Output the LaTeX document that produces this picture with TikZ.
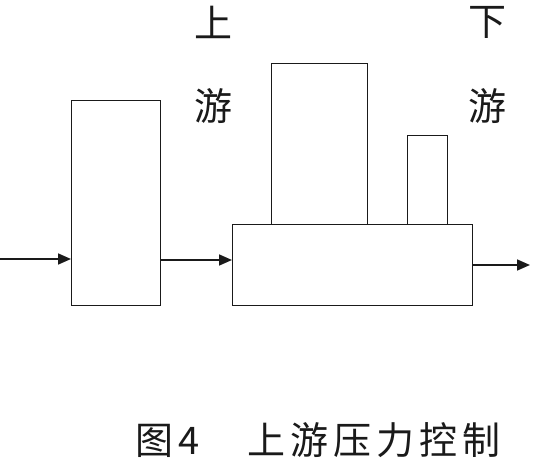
\documentclass[tikz,border=0pt]{standalone}
\usepackage{fontspec}
\usepackage{tikz}
\usetikzlibrary{arrows.meta,positioning}
\newfontfamily\cjk[LetterSpace=13]{Noto Sans CJK SC}
\newfontfamily\cjklabel{Noto Sans CJK SC}
\definecolor{ink}{HTML}{1A1A1A}

\begin{document}
\begin{tikzpicture}[x=1pt,y=-1pt,
every node/.style={inner sep=0pt,outer sep=0pt},
box/.style={draw=ink,line width=1pt,minimum width=#1},
lbl/.style={font=\cjklabel\fontsize{38}{38}\selectfont,text=ink},
arr/.style={-{Triangle[length=13pt,width=11pt]},line width=1.6pt,draw=ink}
]
\useasboundingbox (0,0) rectangle (544,460);
\node[box=89pt,minimum height=204pt] (feed) at (115.5,203) {};
\node[box=240pt,minimum height=81pt] (base) at (352,264.5) {};
\node[box=96pt,minimum height=160pt] (tower) at (319,144) {};
\node[box=40pt,minimum height=89pt] (drum) at (427,179.5) {};
\node[lbl] (up1) at (213,22) {上};
\node[lbl] (up2) at (213,106) {游};
\node[lbl] (dn1) at (487,22) {下};
\node[lbl] (dn2) at (487,106) {游};
\node[font=\cjk\fontsize{38}{38}\selectfont,text=ink] (cap) at (318,440) {图4　上游压力控制};
\coordinate (src) at (0,259);
\coordinate (sink) at (530,265);
\draw[arr] (src) -- (src -| feed.west);
\draw[arr] (feed.east |- 0,260) -- (base.west |- 0,260);
\draw[arr] (base.east |- sink) -- (sink);
\end{tikzpicture}
\end{document}
